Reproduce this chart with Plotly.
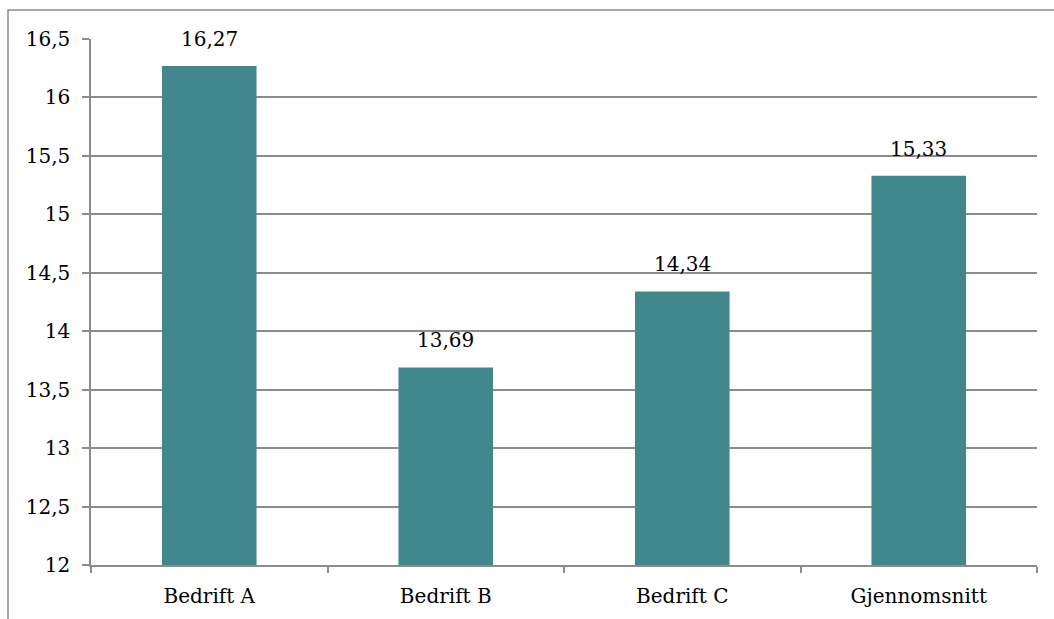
import plotly.graph_objects as go

categories = ["Bedrift A", "Bedrift B", "Bedrift C", "Gjennomsnitt"]
values = [16.27, 13.69, 14.34, 15.33]
value_labels = ["16,27", "13,69", "14,34", "15,33"]
y_ticks = [12, 12.5, 13, 13.5, 14, 14.5, 15, 15.5, 16, 16.5]

FONT = "DejaVu Serif"
GRID = "#8c8c8c"
BAR = "#42878b"

W, H = 1054, 619
L, R, T, B = 91, 17, 39, 54
pw, ph = W - L - R, H - T - B

fig = go.Figure(
    go.Bar(
        x=categories,
        y=values,
        base=0,
        marker=dict(color=BAR, line=dict(width=0)),
        width=0.4,
        hoverinfo="skip",
    )
)

for c, v, t in zip(categories, values, value_labels):
    fig.add_annotation(
        x=c, y=v, text=t, showarrow=False, yanchor="bottom", yshift=13,
        font=dict(family=FONT, size=20, color="#000000"),
    )

# outer chart frame (runs off the right and bottom edges)
fig.add_shape(
    type="rect", xref="paper", yref="paper",
    x0=(8 - L) / pw, x1=1.2, y0=-0.3, y1=(H - B - 10) / ph,
    line=dict(color="#8c8c8c", width=1.5), fillcolor="rgba(0,0,0,0)",
    layer="below",
)

fig.update_layout(
    width=W, height=H,
    margin=dict(l=L, r=R, t=T, b=B),
    paper_bgcolor="white", plot_bgcolor="white",
    separators=", ",
    showlegend=False,
    font=dict(family=FONT, size=20, color="#000000"),
    xaxis=dict(
        showgrid=False, showline=True, linecolor=GRID, linewidth=1.5,
        ticks="outside", tickson="boundaries", ticklen=6, tickcolor=GRID, tickwidth=1.5,
        ticklabelstandoff=12,
        tickfont=dict(family=FONT, size=20),
    ),
    yaxis=dict(
        range=[12, 16.5], tickvals=y_ticks,
        showgrid=True, gridcolor=GRID, gridwidth=1.5,
        showline=True, linecolor=GRID, linewidth=1.5,
        ticks="outside", ticklen=7, tickcolor=GRID, tickwidth=1.5,
        ticklabelstandoff=8, zeroline=False,
        tickfont=dict(family=FONT, size=20),
    ),
)

fig.write_html("out.html")
